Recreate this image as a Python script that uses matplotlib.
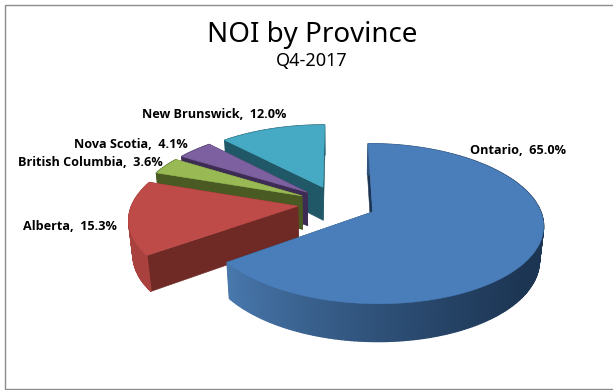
import numpy as np
import matplotlib
matplotlib.use('Agg')
import matplotlib.pyplot as plt
from matplotlib.patches import Polygon, Rectangle
from matplotlib.colors import to_rgb

provinces = ['Ontario', 'Alberta', 'British Columbia', 'Nova Scotia', 'New Brunswick']
shares = [65.0, 15.3, 3.6, 4.1, 12.0]
top_colors = ['#4A7EBB', '#BE4B48', '#98B954', '#7D60A0', '#46AAC5']
side_colors = ['#1C3553', '#6F2A26', '#4A5A23', '#3D2C54', '#205867']
wall_colors = ['#4A7AB0', '#A9423F', '#4A5A23', '#3D2C54', '#205867']
label_pos = [(518, 150), (70, 227), (90.5, 163), (130.5, 144), (214.5, 114)]

# projection of the pie plane, in pixels
CX, CY = 337.0, 203.5
A, B = 165.5, 75.8
PERSP = 0.146
DEPTH = 34.5
Z_PERSP = 0.02
EXPLODE = 0.238


def project(u, v, z=0.0):
    w = 1 + PERSP * v + Z_PERSP * z
    return CX + A * u / w, CY + (-B * v + DEPTH * z) / w


def rim(apex, a0, a1):
    t = np.radians(np.linspace(a0, a1, max(int(a1 - a0), 8)))
    return apex[0] + np.sin(t), apex[1] + np.cos(t)


def poly(ax, x, y, color, lw=0.4):
    ax.add_patch(Polygon(np.column_stack([x, y]), closed=True, facecolor=color,
                         edgecolor=color, linewidth=lw))


def draw_slice(ax, a0, a1, top, side, wall):
    mid = np.radians((a0 + a1) / 2)
    apex = (EXPLODE * np.sin(mid), EXPLODE * np.cos(mid))
    us, vs = rim(apex, a0, a1)

    # the two cut faces go first, the top hides whatever is behind it
    for a in (a0, a1):
        u1 = apex[0] + np.sin(np.radians(a))
        v1 = apex[1] + np.cos(np.radians(a))
        p = [project(apex[0], apex[1]), project(u1, v1),
             project(u1, v1, 1), project(apex[0], apex[1], 1)]
        poly(ax, [q[0] for q in p], [q[1] for q in p], side)

    # outer wall, shaded from left to right
    xt, yt = project(us, vs)
    xb, yb = project(us, vs, 1)
    c0 = np.array(to_rgb(wall))
    c1 = np.array(to_rgb(side))
    for i in range(len(us) - 1):
        f = np.clip((xt[i] - 225) / 300, 0, 1) ** 0.8
        if top != top_colors[0]:
            f = 0
        c = c0 * (1 - f) + c1 * f
        poly(ax, [xt[i], xt[i + 1], xb[i + 1], xb[i]],
             [yt[i], yt[i + 1], yb[i + 1], yb[i]], tuple(c), lw=1.0)

    # top surface
    ax_, ay_ = project(apex[0], apex[1])
    poly(ax, np.r_[ax_, xt], np.r_[ay_, yt], top)


fig = plt.figure(figsize=(6.13, 3.9), dpi=100)
ax = fig.add_axes([0, 0, 1, 1])
ax.set_xlim(0, 613)
ax.set_ylim(390, 0)
ax.axis('off')

# frame runs off the right side of the image
ax.add_patch(Rectangle((5, 4.5), 620, 384, facecolor='white', edgecolor='#8C8C8C', linewidth=1.0))

starts = np.cumsum([0] + shares[:-1]) * 3.6
ends = np.cumsum(shares) * 3.6
for i in [4, 3, 2, 1, 0]:
    draw_slice(ax, starts[i], ends[i], top_colors[i], side_colors[i], wall_colors[i])

ax.text(312, 35, 'NOI by Province', ha='center', va='center', fontsize=20, family='Noto Sans', color='black')
ax.text(312, 61, 'Q4-2017', ha='center', va='center', fontsize=13, family='Noto Sans', color='black')

for name, share, (x, y) in zip(provinces, shares, label_pos):
    ax.text(x, y, '%s,  %.1f%%' % (name, share), ha='center', va='center', fontsize=9.1,
            fontweight='bold', family='Open Sans', color='black')

fig.savefig('out.png', dpi=100)
